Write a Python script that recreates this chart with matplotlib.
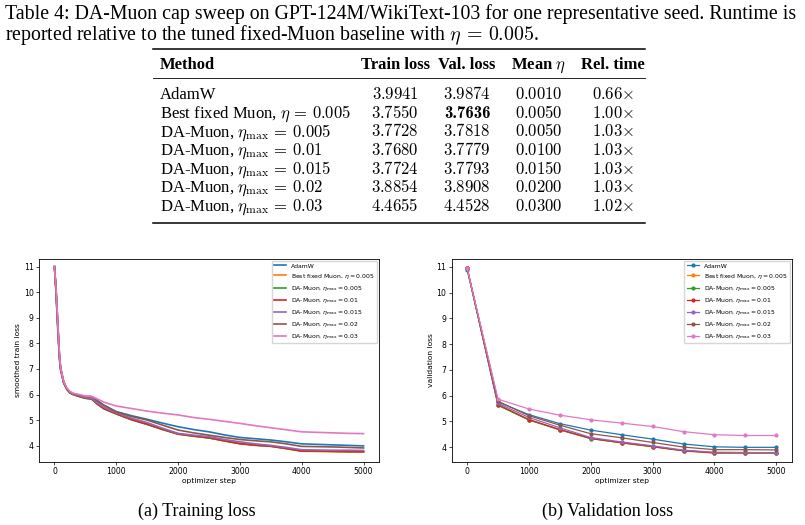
import numpy as np
import matplotlib
matplotlib.use("Agg")
import matplotlib.pyplot as plt
from matplotlib.lines import Line2D

# ---- table data ----
methods = ["AdamW", r"Best fixed Muon, $\eta\,=\,0.005$",
           r"DA-Muon, $\eta_{\max}\,=\,0.005$", r"DA-Muon, $\eta_{\max}\,=\,0.01$",
           r"DA-Muon, $\eta_{\max}\,=\,0.015$", r"DA-Muon, $\eta_{\max}\,=\,0.02$",
           r"DA-Muon, $\eta_{\max}\,=\,0.03$"]
train_loss = ["3.9941", "3.7550", "3.7728", "3.7680", "3.7724", "3.8854", "4.4655"]
val_loss = ["3.9874", "3.7636", "3.7818", "3.7779", "3.7793", "3.8908", "4.4528"]
mean_eta = ["0.0010", "0.0050", "0.0050", "0.0100", "0.0150", "0.0200", "0.0300"]
rel_time = ["0.66", "1.00", "1.03", "1.03", "1.03", "1.03", "1.02"]
best_val = 1

# ---- curves ----
labels = ["AdamW", r"Best fixed Muon, $\eta = 0.005$",
          r"DA-Muon, $\eta_{\max} = 0.005$", r"DA-Muon, $\eta_{\max} = 0.01$",
          r"DA-Muon, $\eta_{\max} = 0.015$", r"DA-Muon, $\eta_{\max} = 0.02$",
          r"DA-Muon, $\eta_{\max} = 0.03$"]

train_steps = [0, 25, 50, 80, 100, 150, 200, 250, 300, 400, 500, 600, 700, 800, 1000,
               1250, 1500, 1750, 2000, 2250, 2500, 2750, 3000, 3250, 3500, 3750, 4000,
               4250, 4500, 4750, 5000]
train_adamw = [11.0, 10.0, 8.7, 7.4, 6.95, 6.45, 6.22, 6.1, 6.03, 5.97, 5.9, 5.84, 5.72, 5.58,
               5.33, 5.17, 5.03, 4.88, 4.74, 4.63, 4.54, 4.42, 4.32, 4.27, 4.22, 4.15, 4.07,
               4.05, 4.03, 4.01, 3.99]
train_fixed = [11.0, 10.0, 8.8, 7.45, 6.98, 6.45, 6.2, 6.06, 6.0, 5.92, 5.86, 5.83, 5.62, 5.45,
               5.24, 5.01, 4.83, 4.63, 4.45, 4.37, 4.3, 4.18, 4.07, 4.01, 3.97, 3.88, 3.78,
               3.77, 3.76, 3.75, 3.75]
train_005 = [11.0, 10.1, 8.9, 7.5, 7.0, 6.45, 6.2, 6.06, 6.0, 5.92, 5.85, 5.82, 5.61, 5.44,
             5.24, 5.01, 4.83, 4.63, 4.45, 4.37, 4.3, 4.19, 4.08, 4.02, 3.98, 3.89, 3.79,
             3.79, 3.78, 3.77, 3.77]
train_01 = [11.0, 10.1, 8.9, 7.5, 7.0, 6.46, 6.21, 6.07, 6.01, 5.93, 5.86, 5.83, 5.62, 5.45,
            5.25, 5.02, 4.84, 4.64, 4.46, 4.38, 4.31, 4.19, 4.08, 4.02, 3.98, 3.89, 3.79,
            3.79, 3.78, 3.77, 3.76]
train_015 = [11.0, 10.1, 8.9, 7.5, 7.0, 6.47, 6.22, 6.08, 6.02, 5.95, 5.88, 5.85, 5.66, 5.5,
             5.28, 5.07, 4.9, 4.68, 4.48, 4.41, 4.35, 4.24, 4.15, 4.07, 4.01, 3.93, 3.84,
             3.83, 3.82, 3.82, 3.81]
train_02 = [11.0, 10.2, 9.0, 7.6, 7.05, 6.5, 6.24, 6.1, 6.04, 5.98, 5.93, 5.92, 5.76, 5.58,
            5.32, 5.14, 5.0, 4.8, 4.61, 4.5, 4.41, 4.32, 4.24, 4.19, 4.15, 4.07, 3.97,
            3.96, 3.95, 3.93, 3.91]
train_03 = [11.0, 10.2, 9.0, 7.6, 7.05, 6.5, 6.25, 6.12, 6.05, 6.0, 5.94, 5.93, 5.82, 5.7,
            5.55, 5.45, 5.35, 5.27, 5.2, 5.1, 5.03, 4.95, 4.87, 4.78, 4.7, 4.62, 4.54,
            4.52, 4.5, 4.48, 4.47]

val_steps = [0, 500, 1000, 1500, 2000, 2500, 3000, 3500, 4000, 4500, 5000]
val_adamw = [10.9, 5.75, 5.26, 4.91, 4.66, 4.48, 4.31, 4.12, 4.01, 3.99, 3.99]
val_fixed = [10.95, 5.63, 5.06, 4.67, 4.33, 4.16, 4.01, 3.85, 3.76, 3.76, 3.76]
val_005 = [10.95, 5.62, 5.05, 4.67, 4.33, 4.17, 4.02, 3.86, 3.78, 3.78, 3.78]
val_01 = [10.95, 5.65, 5.07, 4.68, 4.34, 4.17, 4.02, 3.86, 3.78, 3.78, 3.78]
val_015 = [10.95, 5.7, 5.15, 4.75, 4.37, 4.2, 4.05, 3.88, 3.8, 3.79, 3.78]
val_02 = [10.95, 5.78, 5.22, 4.85, 4.52, 4.36, 4.18, 4.0, 3.9, 3.9, 3.89]
val_03 = [10.95, 5.86, 5.48, 5.24, 5.06, 4.93, 4.8, 4.6, 4.48, 4.45, 4.45]

train_series = [train_adamw, train_fixed, train_005, train_01, train_015, train_02, train_03]
val_series = [val_adamw, val_fixed, val_005, val_01, val_015, val_02, val_03]

W, H = 805, 525
fig = plt.figure(figsize=(W / 100, H / 100), dpi=100)
plt.rcParams['mathtext.fontset'] = 'dejavusans'

def fx(x):
    return x / W

def fy(y):
    return 1 - y / H

serif = dict(family='Liberation Serif', math_fontfamily='cm')

# caption (one text object, two lines)
caption = ("Table 4: DA-Muon cap sweep on GPT-124M/WikiText-103 for one "
           "representative seed. Runtime is\n"
           r"reported relative to the tuned fixed-Muon baseline with $\eta\,=\,0.005$.")
fig.text(fx(5), fy(40), caption, fontsize=14.35, va='baseline', linespacing=0.95, **serif)

# table rules
def rule(y, lw):
    fig.add_artist(Line2D([fx(153), fx(645)], [fy(y), fy(y)], color='black', lw=lw,
                          transform=fig.transFigure))

rule(49, 1.1)
rule(78.3, 0.6)
rule(223.3, 1.1)

col_method = 160
col_centers = [395, 467, 539, 613]
headers = ["Train loss", "Val. loss", r"Mean $\eta$", "Rel. time"]
fs_tab = 12

fig.text(fx(col_method), fy(69), "Method", fontsize=fs_tab, fontweight='bold',
         va='baseline', **serif)
for cx, h in zip(col_centers, headers):
    fig.text(fx(cx), fy(69), h, fontsize=fs_tab, fontweight='bold', ha='center',
             va='baseline', **serif)

for i in range(len(methods)):
    yb = 99.3 + i * 18.57
    fig.text(fx(col_method), fy(yb), methods[i], fontsize=fs_tab, va='baseline', **serif)
    cells = ["$%s$" % train_loss[i], "$%s$" % val_loss[i], "$%s$" % mean_eta[i],
             r"$%s{\times}$" % rel_time[i]]
    for j, (cx, c) in enumerate(zip(col_centers, cells)):
        if j == 1 and i == best_val:
            # bold best validation loss
            fig.text(fx(cx), fy(yb), val_loss[i], fontsize=fs_tab, ha='center',
                     va='baseline', family='cmb10')
        else:
            fig.text(fx(cx), fy(yb), c, fontsize=fs_tab, ha='center', va='baseline', **serif)

# plots
ax1 = fig.add_axes([fx(39), fy(462), fx(340), 203 / H])
ax2 = fig.add_axes([fx(451.7), fy(462), fx(340), 203 / H])

for s, lab in zip(train_series, labels):
    ax1.plot(train_steps, s, lw=1.2, label=lab)
for s, lab in zip(val_series, labels):
    ax2.plot(val_steps, s, lw=0.9, marker='o', ms=2, label=lab)

ax1.set_ylim(3.36, 11.3)
ax2.set_ylim(3.42, 11.31)
ax1.set_ylabel("smoothed train loss", fontsize=5.4, labelpad=2)
ax2.set_ylabel("validation loss", fontsize=5.4, labelpad=2)
for ax in (ax1, ax2):
    ax.set_xlim(-250, 5250)
    ax.set_xticks([0, 1000, 2000, 3000, 4000, 5000])
    ax.set_yticks([4, 5, 6, 7, 8, 9, 10, 11])
    ax.set_xlabel("optimizer step", fontsize=5.4, labelpad=1.5)
    ax.tick_params(labelsize=5.6, length=2.3, width=0.5, pad=1.5)
    for sp in ax.spines.values():
        sp.set_linewidth(0.6)
    ax.legend(loc='upper right', prop=dict(size=4.4, math_fontfamily='dejavusans'),
              handlelength=2.0, borderaxespad=0.3, framealpha=0.8)

fig.text(fx(196.5), fy(516), "(a) Training loss", fontsize=13, ha='center',
         va='baseline', **serif)
fig.text(fx(608), fy(516), "(b) Validation loss", fontsize=13, ha='center',
         va='baseline', **serif)

fig.savefig("out.png", dpi=100)
